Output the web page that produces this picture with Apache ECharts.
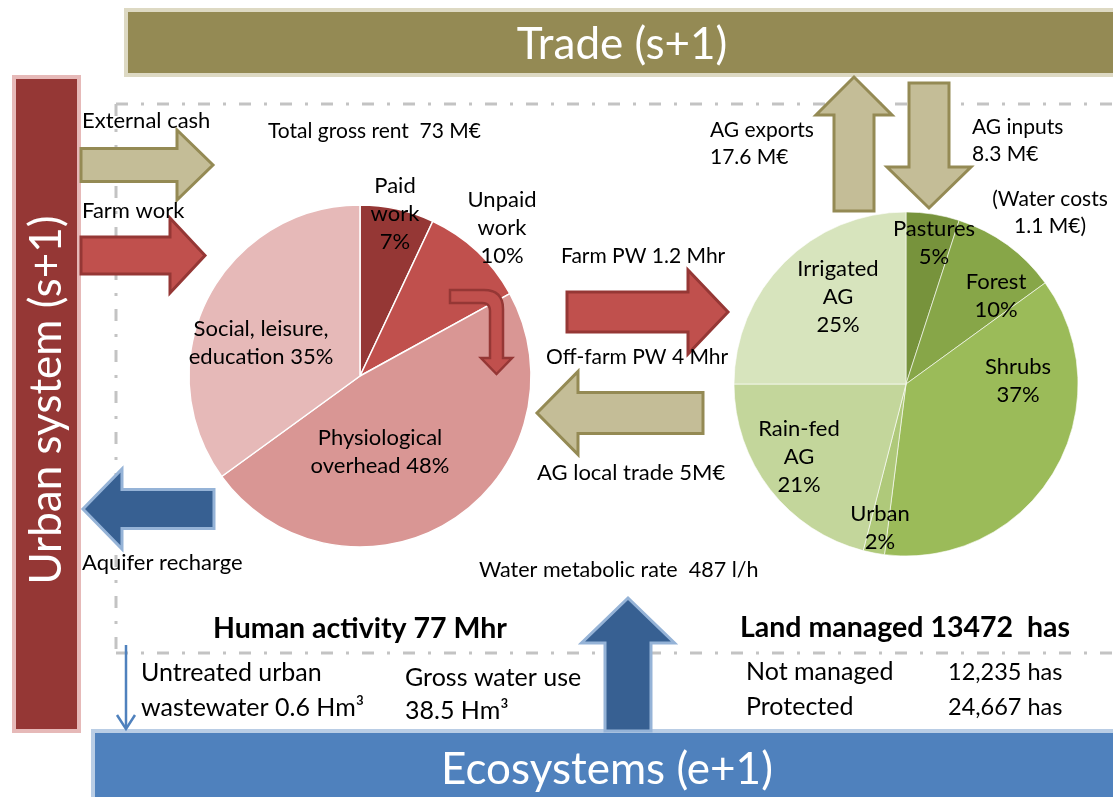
<!DOCTYPE html>
<html>
<head>
<meta charset="utf-8">
<script src="https://cdn.jsdelivr.net/npm/echarts@6/dist/echarts.min.js"></script>
<style>
html,body{margin:0;padding:0;background:#fff;}
#chart{width:1113px;height:797px;}
</style>
</head>
<body>
<div id="chart"></div>
<script>
// ---- data ----
const humanCats = ['Paid work', 'Unpaid work', 'Physiological overhead', 'Social, leisure, education'];
const humanLabelText = ['Paid\nwork\n', 'Unpaid\nwork\n', 'Physiological\noverhead ', 'Social, leisure,\neducation '];
const humanVals = [7, 10, 48, 35];
const landCats = ['Pastures', 'Forest', 'Shrubs', 'Urban', 'Rain-fed AG', 'Irrigated AG'];
const landLabelText = ['Pastures\n', 'Forest\n', 'Shrubs\n', 'Urban\n', 'Rain-fed\nAG\n', 'Irrigated\nAG\n'];
const landVals = [5, 10, 37, 2, 21, 25];

// ---- styles ----
const FONT = 'Lato';
const humanColors = ['#953735', '#C0504D', '#D99694', '#E6B9B8'];
const landColors = ['#77933C', '#87A648', '#9BBB59', '#AFC97A', '#C3D69B', '#D7E4BD'];
const humanLabelPos = [[395, 214], [502, 228], [380, 452], [261, 343]];
const landLabelPos = [[934, 243], [996, 296], [1018, 381], [880, 528], [799, 457], [838, 297]];

const OLIVE = {fill: '#C4BD97', stroke: '#948A54'};
const RED = {fill: '#C0504D', stroke: '#953735'};
const BLUE = {fill: '#376092', stroke: '#95B3D7'};

function arrow(sx, sy, tx, ty, shaftHalf, headHalf, headLen, st, z) {
  const dx = tx - sx, dy = ty - sy, L = Math.hypot(dx, dy);
  const ux = dx / L, uy = dy / L, px = -uy, py = ux;
  const bx = tx - ux * headLen, by = ty - uy * headLen;
  const pts = [
    [sx + px * shaftHalf, sy + py * shaftHalf],
    [bx + px * shaftHalf, by + py * shaftHalf],
    [bx + px * headHalf, by + py * headHalf],
    [tx, ty],
    [bx - px * headHalf, by - py * headHalf],
    [bx - px * shaftHalf, by - py * shaftHalf],
    [sx - px * shaftHalf, sy - py * shaftHalf]
  ];
  return {type: 'polygon', z: z || 5, shape: {points: pts},
    style: {fill: st.fill, stroke: st.stroke, lineWidth: 3, lineJoin: 'miter'}};
}
function quad(p0, c, p1, n) {
  const out = [];
  for (let i = 1; i < n; i++) {
    const t = i / n, a = (1 - t) * (1 - t), b = 2 * (1 - t) * t, d = t * t;
    out.push([a * p0[0] + b * c[0] + d * p1[0], a * p0[1] + b * c[1] + d * p1[1]]);
  }
  return out;
}
function bentArrow() {
  let pts = [[450, 290], [484, 290]];
  pts = pts.concat(quad([484, 290], [503, 290], [503, 309], 8));
  pts = pts.concat([[503, 309], [503, 358], [512, 358], [496.5, 374], [481, 358], [490, 358], [490, 311]]);
  pts = pts.concat(quad([490, 311], [490, 303], [482, 303], 6));
  pts = pts.concat([[482, 303], [450, 303]]);
  return {type: 'polygon', z: 10, shape: {points: pts}, style: {fill: '#C0504D', stroke: '#953735', lineWidth: 2.5}};
}
function txt(x, y, s, opt) {
  opt = opt || {};
  return {type: 'text', z: 20, x: x, y: y, rotation: opt.rotation || 0,
    style: {text: s, fill: opt.color || '#000', font: (opt.weight || 'normal') + ' ' + (opt.size || 21) + 'px ' + FONT,
      textAlign: opt.align || 'left', textVerticalAlign: 'middle', lineHeight: opt.lh || 27}};
}
const dashStyle = {stroke: '#C3C3C3', lineWidth: 3, lineDash: [12, 13, 3, 13]};

const chart = echarts.init(document.getElementById('chart'));
chart.setOption({
  backgroundColor: '#fff',
  animation: false,
  series: [
    {
      type: 'pie', name: 'Human activity', center: [360, 376], radius: 171, startAngle: 90,
      clockwise: true, silent: true, z: 3,
      data: humanCats.map((c, i) => ({name: c, value: humanVals[i], itemStyle: {color: humanColors[i]}})),
      itemStyle: {borderColor: '#fff', borderWidth: 1.5},
      label: {show: true, position: 'inside', color: '#000', fontFamily: FONT, fontSize: 22, lineHeight: 28,
        formatter: p => humanLabelText[p.dataIndex] + p.value + '%'},
      labelLine: {show: false},
      labelLayout: p => ({x: humanLabelPos[p.dataIndex][0], y: humanLabelPos[p.dataIndex][1], align: 'center', verticalAlign: 'middle'})
    },
    {
      type: 'pie', name: 'Land', center: [906, 384], radius: 172, startAngle: 90,
      clockwise: true, silent: true, z: 3,
      data: landCats.map((c, i) => ({name: c, value: landVals[i], itemStyle: {color: landColors[i]}})),
      itemStyle: {borderColor: 'rgba(255,255,255,0.6)', borderWidth: 1},
      label: {show: true, position: 'inside', color: '#000', fontFamily: FONT, fontSize: 22, lineHeight: 28,
        formatter: p => landLabelText[p.dataIndex] + p.value + '%'},
      labelLine: {show: false},
      labelLayout: p => ({x: landLabelPos[p.dataIndex][0], y: landLabelPos[p.dataIndex][1], align: 'center', verticalAlign: 'middle'})
    }
  ],
  graphic: [
    // dashed boundary
    {type: 'line', z: 1, shape: {x1: 116, y1: 104, x2: 1113, y2: 104}, style: dashStyle},
    {type: 'line', z: 1, shape: {x1: 116, y1: 104, x2: 116, y2: 653}, style: dashStyle},
    {type: 'line', z: 1, shape: {x1: 116, y1: 653, x2: 1113, y2: 653}, style: dashStyle},
    // boxes
    {type: 'rect', z: 2, shape: {x: 126, y: 10, width: 1010, height: 65}, style: {fill: '#948A54', stroke: '#DDD9C3', lineWidth: 4}},
    {type: 'rect', z: 2, shape: {x: 14, y: 77, width: 65, height: 654}, style: {fill: '#953735', stroke: '#E6B9B8', lineWidth: 4}},
    {type: 'rect', z: 2, shape: {x: 93, y: 731, width: 1040, height: 80}, style: {fill: '#4F81BD', stroke: '#B9CDE5', lineWidth: 4}},
    txt(622, 45, 'Trade (s+1)', {color: '#fff', size: 44, align: 'center'}),
    txt(47, 400, 'Urban system (s+1)', {color: '#fff', size: 44, align: 'center', rotation: Math.PI / 2}),
    txt(607, 770, 'Ecosystems (e+1)', {color: '#fff', size: 44, align: 'center'}),
    // arrows
    arrow(81, 165, 213, 165, 16.5, 35, 36, OLIVE),
    arrow(81, 255.5, 205, 255.5, 18.5, 37.5, 35, RED),
    arrow(567, 312, 728, 312, 20, 42, 40, RED),
    arrow(703, 413, 537, 413, 20.5, 41.5, 41, OLIVE),
    arrow(854, 211, 854, 77, 20, 38, 38, OLIVE),
    arrow(929, 83, 929, 208, 20, 42, 41, OLIVE),
    arrow(214, 509, 83, 509, 19.5, 40, 39, BLUE),
    arrow(628, 731, 628, 598, 23, 46.5, 45, BLUE),
    bentArrow(),
    {type: 'line', z: 6, shape: {x1: 126, y1: 645, x2: 126, y2: 728}, style: {stroke: '#4F81BD', lineWidth: 2.5}},
    {type: 'polyline', z: 6, shape: {points: [[117, 715], [126, 729], [135, 715]]}, style: {stroke: '#4F81BD', lineWidth: 2.5}},
    // texts
    txt(82, 121, 'External cash', {size: 22}),
    txt(268, 131, 'Total gross rent  73 M€', {size: 21}),
    txt(82, 211, 'Farm work', {size: 22}),
    txt(561, 256, 'Farm PW 1.2 Mhr', {size: 21}),
    txt(546, 357, 'Off-farm PW 4 Mhr', {size: 21}),
    txt(537, 473, 'AG local trade 5M€', {size: 22}),
    txt(710, 144, 'AG exports\n17.6 M€', {size: 21}),
    txt(972, 141, 'AG inputs\n8.3 M€', {size: 21}),
    txt(1050, 213, '(Water costs\n1.1 M€)', {size: 21, align: 'center'}),
    txt(82, 563, 'Aquifer recharge', {size: 22}),
    txt(479, 570, 'Water metabolic rate  487 l/h', {size: 21.5}),
    txt(213, 629, 'Human activity 77 Mhr', {weight: 'bold', size: 28.5}),
    txt(740, 628, 'Land managed 13472  has', {weight: 'bold', size: 28.5}),
    txt(141, 690, 'Untreated urban\nwastewater 0.6 Hm³', {size: 25, lh: 35}),
    txt(405, 694, 'Gross water use\n38.5 Hm³', {size: 25, lh: 33}),
    txt(746, 672, 'Not managed', {size: 25}),
    txt(948, 672, '12,235 has', {size: 23.5}),
    txt(746, 707, 'Protected', {size: 25}),
    txt(948, 707, '24,667 has', {size: 23.5})
  ]
});
</script>
</body>
</html>
